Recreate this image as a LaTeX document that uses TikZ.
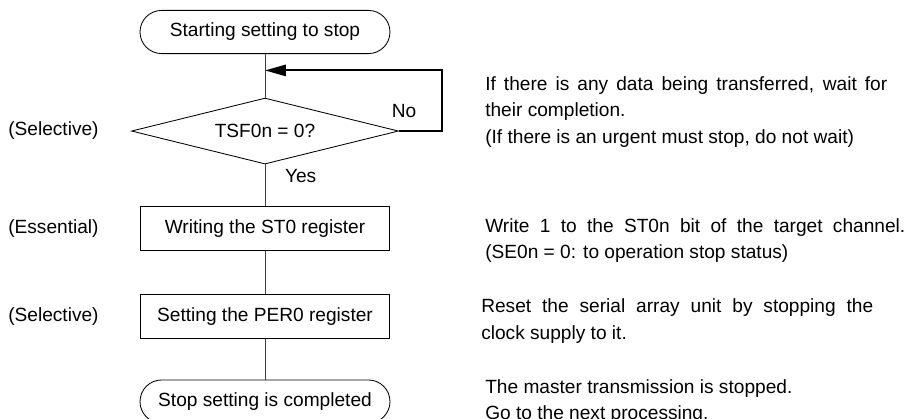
\documentclass[tikz,border=0pt]{standalone}
\usepackage{fontspec}
\setmainfont{Liberation Sans}
\usetikzlibrary{positioning,arrows.meta,calc,shapes.geometric}

\begin{document}
\begin{tikzpicture}[
  font=\fontsize{13.6}{18.8}\selectfont,
  box/.style={draw, line width=0.6pt, align=center, inner sep=2pt, minimum width=62.25mm, minimum height=11mm},
  term/.style={box, rounded corners=5.4mm, minimum width=62.5mm, minimum height=10.8mm},
  dec/.style={draw, line width=0.6pt, diamond, aspect=4, inner sep=1pt, minimum width=66.75mm, minimum height=16.5mm},
  flow/.style={line width=0.6pt, black!75},
  back/.style={-{Triangle[length=5.2mm,width=2.8mm]}, line width=1.4pt},
  lbl/.style={inner sep=1pt},
  side/.style={anchor=west, inner sep=0pt},
  note/.style={anchor=west, inner sep=0pt, align=justify},
]

\useasboundingbox (-66.25mm,8mm) rectangle (160.5mm,-96.75mm);

% ============ FLOW (centre column) ============
\node[term] (start) at (0,0) {Starting setting to stop};
\node[dec, below=10.9mm of start] (tsf) {TSF0n = 0?};
\node[box, below=10.5mm of tsf]   (st0)  {Writing the ST0 register};
\node[box, below=10.75mm of st0]  (per0) {Setting the PER0 register};
\node[term, below=10.1mm of per0] (done) {Stop setting is completed};

\draw[flow] (start) -- (tsf);
\draw[flow] (tsf) -- (st0);
\draw[flow] (st0) -- (per0);
\draw[flow] (per0) -- (done);

% wait loop back above the decision
\coordinate (loopin) at ($(start.south)+(0,-4.1mm)$);
\draw[back] (tsf.east) -- ++(10.75mm,0) |- (loopin);
\node[lbl] at ($(tsf.east)+(1.3mm,5mm)$) {No};
\node[lbl, anchor=west] at ($(tsf.south)+(4.6mm,-3mm)$) {Yes};

% ============ LEFT COLUMN ============
\coordinate (lcol) at (-64.25mm,0);
\node[side] (sel1) at (lcol |- tsf)  {(Selective)};
\node[side] (ess)  at (lcol |- st0)  {(Essential)};
\node[side] (sel2) at (lcol |- per0) {(Selective)};

% ============ NOTES (right column) ============
\coordinate (rcol) at (55mm,0);
\node[note, text width=100.5mm, yshift=4.75mm] (n1) at (rcol |- tsf)
   {If there is any data being transferred, wait for\linebreak their completion.\\ (If there is an urgent must stop, do not wait)};
\node[note, text width=105mm, yshift=-2.9mm] (n2) at (rcol |- st0)
   {Write 1 to the ST0n bit of the target channel.\linebreak (SE0n = 0: to operation stop status)};
\node[note, text width=98mm, xshift=-1mm, yshift=-1.1mm] (n3) at (rcol |- per0)
   {Reset the serial array unit by stopping the\linebreak clock supply to it.};
\node[note, align=left] (n4) at (rcol |- done)
   {The master transmission is stopped.\\ Go to the next processing.};

\end{tikzpicture}
\end{document}
